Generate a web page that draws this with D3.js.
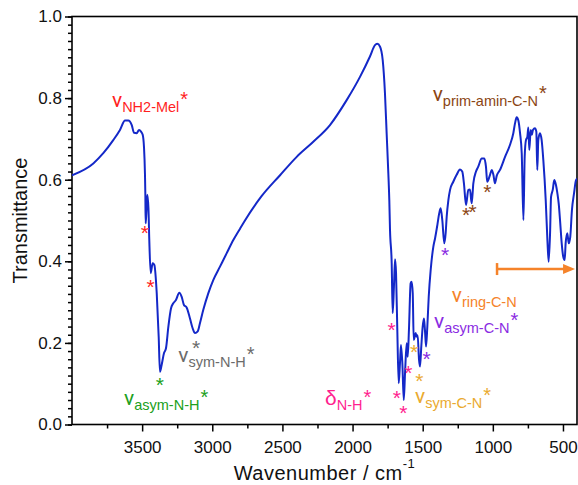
<!DOCTYPE html>
<html>
<head>
<meta charset="utf-8">
<script src="https://cdn.jsdelivr.net/npm/d3@7"></script>
<style>
  body { margin: 0; background: #fff; }
  svg { font-family: "Liberation Sans", Arial, sans-serif; }
</style>
</head>
<body>
<div id="chart"></div>
<script>
// spectrum (wavenumber in cm-1, transmittance)
const wavenumbers = [4000, 3848, 3777, 3706, 3658, 3622, 3599, 3574, 3558, 3539, 3522, 3508, 3496, 3487, 3480, 3477, 3475, 3470, 3463, 3455, 3449, 3439, 3425, 3413, 3396, 3382, 3373, 3361, 3344, 3330, 3313, 3294, 3278, 3259, 3235, 3218, 3202, 3183, 3159, 3140, 3123, 3104, 3088, 3064, 3028, 2993, 2945, 2897, 2850, 2802, 2767, 2650, 2517, 2398, 2280, 2161, 2042, 1947, 1876, 1840, 1824, 1804, 1785, 1769, 1757, 1745, 1738, 1733, 1721, 1714, 1705, 1697, 1690, 1681, 1671, 1662, 1655, 1645, 1635, 1626, 1614, 1607, 1598, 1586, 1579, 1571, 1564, 1557, 1550, 1543, 1536, 1526, 1519, 1510, 1500, 1491, 1484, 1476, 1467, 1457, 1443, 1424, 1412, 1395, 1382, 1372, 1360, 1346, 1336, 1329, 1317, 1305, 1282, 1258, 1234, 1218, 1206, 1191, 1175, 1163, 1151, 1139, 1120, 1104, 1079, 1061, 1049, 1040, 1020, 1008, 996, 985, 972, 949, 913, 878, 854, 842, 830, 818, 806, 794, 782, 773, 764, 754, 747, 740, 730, 722, 714, 700, 690, 683, 676, 664, 652, 640, 623, 611, 602, 592, 585, 573, 562, 550, 540, 530, 521, 509, 498, 488, 481, 469, 459, 448, 436, 421, 407, 395];
const transmittance = [0.611, 0.640, 0.665, 0.697, 0.722, 0.745, 0.745, 0.734, 0.715, 0.714, 0.722, 0.718, 0.710, 0.681, 0.616, 0.560, 0.493, 0.520, 0.563, 0.530, 0.452, 0.371, 0.395, 0.391, 0.322, 0.215, 0.129, 0.146, 0.175, 0.187, 0.240, 0.285, 0.297, 0.305, 0.323, 0.313, 0.293, 0.287, 0.260, 0.236, 0.224, 0.228, 0.248, 0.281, 0.322, 0.354, 0.387, 0.420, 0.452, 0.480, 0.500, 0.559, 0.611, 0.656, 0.693, 0.734, 0.795, 0.852, 0.902, 0.930, 0.933, 0.926, 0.893, 0.812, 0.714, 0.616, 0.550, 0.477, 0.395, 0.273, 0.338, 0.405, 0.371, 0.232, 0.101, 0.150, 0.195, 0.150, 0.060, 0.125, 0.199, 0.166, 0.232, 0.346, 0.350, 0.322, 0.207, 0.215, 0.224, 0.215, 0.219, 0.158, 0.142, 0.191, 0.240, 0.260, 0.232, 0.191, 0.240, 0.313, 0.379, 0.436, 0.456, 0.490, 0.518, 0.530, 0.500, 0.444, 0.470, 0.509, 0.550, 0.575, 0.595, 0.612, 0.625, 0.620, 0.591, 0.538, 0.575, 0.576, 0.542, 0.591, 0.620, 0.632, 0.652, 0.652, 0.632, 0.595, 0.612, 0.624, 0.612, 0.591, 0.610, 0.624, 0.656, 0.685, 0.714, 0.738, 0.753, 0.745, 0.714, 0.665, 0.501, 0.656, 0.697, 0.705, 0.728, 0.673, 0.722, 0.710, 0.722, 0.726, 0.718, 0.624, 0.697, 0.714, 0.697, 0.648, 0.550, 0.452, 0.399, 0.469, 0.558, 0.575, 0.599, 0.587, 0.567, 0.540, 0.501, 0.444, 0.411, 0.403, 0.444, 0.469, 0.444, 0.460, 0.526, 0.567, 0.599, 0.603];

const xTicks = [3500, 3000, 2500, 2000, 1500, 1000, 500];
const xMinorTicks = [3750, 3250, 2750, 2250, 1750, 1250, 750];
const yTicks = [0.0, 0.2, 0.4, 0.6, 0.8, 1.0];
const yMinorTicks = d3.range(0, 51).map(i => i / 50);

// band labels: symbol, subscript, star, colour, anchor (wavenumber, T)
const labelSymbols = ["ν", "ν", "ν", "δ", "ν", "ν", "ν", "ν"];
const labelSubs = ["NH2-Mel", "asym-N-H", "sym-N-H", "N-H", "sym-C-N", "asym-C-N", "ring-C-N", "prim-amin-C-N"];
const labelStars = [true, true, true, true, true, true, false, true];
const labelColors = ["#ff1f1f", "#20a020", "#6b6b6b", "#ff1f8f", "#eaaa30", "#8a2be2", "#f5832a", "#8b4513"];
const labelWn = [3715, 3629, 3242, 2196, 1555, 1419, 1293, 1429];
const labelT = [0.778, 0.048, 0.154, 0.048, 0.053, 0.236, 0.301, 0.794];

// peak markers (asterisks)
const markerWn = [3480, 3439, 3373, 3116, 1721, 1685, 1638, 1603, 1562, 1524, 1472, 1341, 1191, 1144, 1040];
const markerT = [0.481, 0.350, 0.109, 0.199, 0.244, 0.078, 0.040, 0.138, 0.189, 0.120, 0.173, 0.428, 0.526, 0.532, 0.581];
const markerColors = ["#ff1f1f", "#ff1f1f", "#20a020", "#6b6b6b", "#ff1f8f", "#ff1f8f", "#ff1f8f", "#ff1f8f", "#eaaa30", "#eaaa30", "#8a2be2", "#8a2be2", "#8b4513", "#8b4513", "#8b4513"];

// ring C-N range arrow
const arrowRange = [970, 414];
const arrowT = 0.381;

const width = 578;
const height = 485;
const plotLeft = 72, plotRight = 577, plotTop = 16.5, plotBottom = 424.5;

const svg = d3.select("#chart")
    .append("svg")
    .attr("width", width)
    .attr("height", height);

const x = d3.scaleLinear().domain([4000, 400]).range([plotLeft, plotRight]);
const y = d3.scaleLinear().domain([0, 1]).range([plotBottom, plotTop]);

svg.append("defs").append("clipPath")
    .attr("id", "clip")
    .append("rect")
    .attr("x", plotLeft).attr("y", plotTop)
    .attr("width", plotRight - plotLeft).attr("height", plotBottom - plotTop);

// axes
const yMinor = svg.append("g")
    .attr("transform", `translate(${plotLeft},0)`)
    .call(d3.axisLeft(y).tickValues(yMinorTicks).tickSize(4).tickFormat(""));
const yMajor = svg.append("g")
    .attr("transform", `translate(${plotLeft},0)`)
    .call(d3.axisLeft(y).tickValues(yTicks).tickSize(7).tickPadding(3).tickFormat(d3.format(".1f")));

const xMinor = svg.append("g")
    .attr("transform", `translate(0,${plotBottom})`)
    .call(d3.axisBottom(x).tickValues(xMinorTicks).tickSize(4).tickFormat(""));
const xMajor = svg.append("g")
    .attr("transform", `translate(0,${plotBottom})`)
    .call(d3.axisBottom(x).tickValues(xTicks).tickSize(7).tickPadding(9).tickFormat(d3.format("d")));

for (const g of [yMinor, yMajor, xMinor, xMajor]) {
    g.select(".domain").remove();
    g.selectAll("line").attr("stroke", "#000").attr("stroke-width", 1.5);
    g.selectAll("text").attr("font-size", 17).attr("fill", "#111")
        .attr("font-family", "'Liberation Sans', Arial, sans-serif");
}

svg.append("rect")
    .attr("x", plotLeft).attr("y", plotTop)
    .attr("width", plotRight - plotLeft).attr("height", plotBottom - plotTop)
    .attr("fill", "none")
    .attr("stroke", "#000")
    .attr("stroke-width", 1.6);

// axis titles
const xTitle = svg.append("text")
    .attr("x", (plotLeft + plotRight) / 2)
    .attr("y", 480)
    .attr("text-anchor", "middle")
    .attr("font-size", 20)
    .attr("letter-spacing", 0.5)
    .attr("fill", "#111");
xTitle.append("tspan").text("Wavenumber / cm");
xTitle.append("tspan").attr("font-size", 13).attr("dy", -12).text("-1");

svg.append("text")
    .attr("transform", `translate(27,${(plotTop + plotBottom) / 2}) rotate(-90)`)
    .attr("text-anchor", "middle")
    .attr("font-size", 20)
    .attr("fill", "#111")
    .text("Transmittance");

// spectrum
const points = wavenumbers.map((w, i) => [w, transmittance[i]]);
const line = d3.line()
    .x(d => x(d[0]))
    .y(d => y(d[1]))
    .curve(d3.curveMonotoneX);

svg.append("path")
    .datum(points)
    .attr("clip-path", "url(#clip)")
    .attr("fill", "none")
    .attr("stroke", "#1428c8")
    .attr("stroke-width", 2)
    .attr("stroke-linejoin", "round")
    .attr("d", line);

// peak markers
svg.append("g").selectAll("text")
    .data(markerWn)
    .enter()
    .append("text")
    .attr("x", d => x(d))
    .attr("y", (d, i) => y(markerT[i]) + 12)
    .attr("text-anchor", "middle")
    .attr("font-size", 21)
    .attr("fill", (d, i) => markerColors[i])
    .text("*");

// band labels
labelSubs.forEach((sub, i) => {
    const t = svg.append("text")
        .attr("x", x(labelWn[i]))
        .attr("y", y(labelT[i]))
        .attr("fill", labelColors[i]);
    t.append("tspan").attr("font-size", 21)
        .attr("font-family", labelSymbols[i] === "ν" ? "Roboto, 'Liberation Sans', sans-serif" : null)
        .text(labelSymbols[i]);
    t.append("tspan").attr("font-size", 14.5).attr("dy", 5).text(sub);
    if (labelStars[i]) {
        t.append("tspan").attr("font-size", 20).attr("dy", -6).attr("dx", 1).text("*");
    }
});

// ring C-N range arrow
const arrowColor = "#f5832a";
const ay = y(arrowT);
svg.append("line")
    .attr("x1", x(arrowRange[0])).attr("x2", x(arrowRange[1]) - 8)
    .attr("y1", ay).attr("y2", ay)
    .attr("stroke", arrowColor).attr("stroke-width", 2.5);
svg.append("line")
    .attr("x1", x(arrowRange[0])).attr("x2", x(arrowRange[0]))
    .attr("y1", ay - 6).attr("y2", ay + 6)
    .attr("stroke", arrowColor).attr("stroke-width", 2.5);
svg.append("path")
    .attr("d", `M${x(arrowRange[1])},${ay} l-12,-5 l0,10 z`)
    .attr("fill", arrowColor);
</script>
</body>
</html>
